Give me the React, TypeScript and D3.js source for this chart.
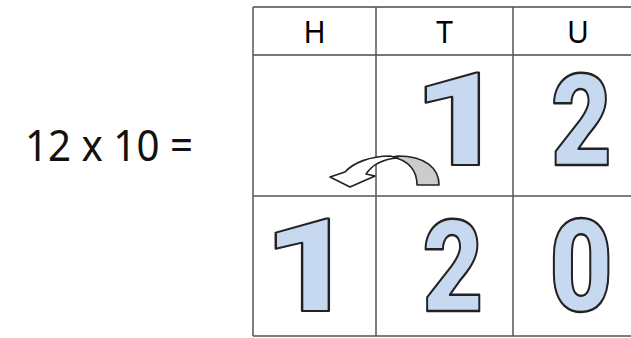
import React, { useEffect, useRef } from 'react';
import * as d3 from 'd3';

// place value headings and the digits in each row
const places = ['H', 'T', 'U'];
const factorDigits = ['', '1', '2']; // 12
const productDigits = ['1', '2', '0']; // 120
const equation = '12 x 10 =';

const WIDTH = 631;
const HEIGHT = 338;

// grid layout (the table runs off the right edge)
const colEdges = [253, 376, 513, 643];
const rowEdges = [7, 55, 196, 336];
const digitShift = [-12, 8, 3];
const DIGIT_W = 55;
const DIGIT_H = 93;
const DIGIT_FAMILY = 'Roboto, sans-serif';
const DIGIT_WEIGHT = 900;

const measure = (ch: string) => {
  const ctx = document.createElement('canvas').getContext('2d');
  ctx.font = `${DIGIT_WEIGHT} 130px ${DIGIT_FAMILY}`;
  const m = ctx.measureText(ch);
  return { left: m.actualBoundingBoxLeft, right: m.actualBoundingBoxRight, ascent: m.actualBoundingBoxAscent };
};

const App = () => {
  const svgRef = useRef(null);

  useEffect(() => {
    const svg = d3.select(svgRef.current);
    svg.selectAll('*').remove();

    const colCenters = places.map((_, i) => (colEdges[i] + colEdges[i + 1]) / 2);
    const x = d3.scaleOrdinal().domain(places).range(colCenters);
    const rows = ['head', 'factor', 'product'];
    const rowBottom = d3.scaleOrdinal().domain(rows).range(rowEdges.slice(1));

    svg.append('rect').attr('width', WIDTH).attr('height', HEIGHT).attr('fill', '#fff');

    // equation on the left
    svg.append('text')
      .attr('x', 25)
      .attr('y', 161)
      .attr('font-family', "'Noto Sans', sans-serif")
      .attr('font-size', 43)
      .attr('fill', '#111')
      .attr('textLength', 168)
      .attr('lengthAdjust', 'spacingAndGlyphs')
      .text(equation);

    // grid lines
    const grid = svg.append('g').attr('stroke', '#555').attr('stroke-width', 1.5);
    rowEdges.forEach((y, i) => {
      grid.append('line').attr('x1', colEdges[0]).attr('x2', WIDTH).attr('y1', y).attr('y2', y)
        .attr('stroke', i < 2 ? '#777' : '#555')
        .attr('stroke-width', i < 2 ? 2 : 1.5);
    });
    colEdges.forEach((cx) => {
      grid.append('line').attr('x1', cx).attr('x2', cx).attr('y1', rowEdges[0]).attr('y2', rowEdges[3]);
    });

    // headings
    svg.append('g')
      .selectAll('text')
      .data(places)
      .join('text')
      .attr('x', (d) => x(d))
      .attr('y', 43)
      .attr('text-anchor', 'middle')
      .attr('font-family', "'Noto Sans', sans-serif")
      .attr('font-size', 30)
      .attr('fill', '#000')
      .text((d) => d);

    // outlined digits, stretched to the same box
    const drawDigits = (digits, row, lift) => {
      const g = svg.append('g');
      digits.forEach((ch, i) => {
        if (!ch) return;
        const m = measure(ch);
        const sx = DIGIT_W / (m.left + m.right);
        const sy = DIGIT_H / m.ascent;
        const cx = x(places[i]) + digitShift[i];
        g.append('text')
          .attr('transform', `translate(${cx},${rowBottom(row) - lift}) scale(${sx},${sy})`)
          .attr('x', -(m.right - m.left) / 2)
          .attr('y', 0)
          .attr('font-family', DIGIT_FAMILY)
          .attr('font-weight', DIGIT_WEIGHT)
          .attr('font-size', 130)
          .attr('fill', '#c6d9f0')
          .attr('stroke', '#222')
          .attr('stroke-width', 2.2)
          .attr('vector-effect', 'non-scaling-stroke')
          .attr('stroke-linejoin', 'round')
          .text(ch);
      });
    };
    drawDigits(factorDigits, 'factor', 31);
    drawDigits(productDigits, 'product', 25);

    // curved arrow: tens digit moves one place left
    const arrow = svg.append('g')
      .attr('transform', `translate(${colEdges[1]},${rowBottom('factor')})`)
      .attr('stroke', '#222')
      .attr('stroke-width', 1.6)
      .attr('stroke-linejoin', 'round');
    arrow.append('path')
      .attr('d', 'M41,-11 L63,-11 C63,-28 49,-40 22,-40 L16,-39 C32,-36 41,-26 41,-11 Z')
      .attr('fill', '#cccccc');
    arrow.append('path')
      .attr('d', 'M14,-40 C-6,-40 -23,-33 -31,-24 L-46,-19 L-26,-9 L-1,-20 L-10,-22 C-4,-31 7,-37 22,-38 Z')
      .attr('fill', '#fff');
  }, []);

  return (
    <svg
      ref={svgRef}
      width={WIDTH}
      height={HEIGHT}
      style={{ position: 'absolute', left: 0, top: 0 }}
    />
  );
};

export default App;
